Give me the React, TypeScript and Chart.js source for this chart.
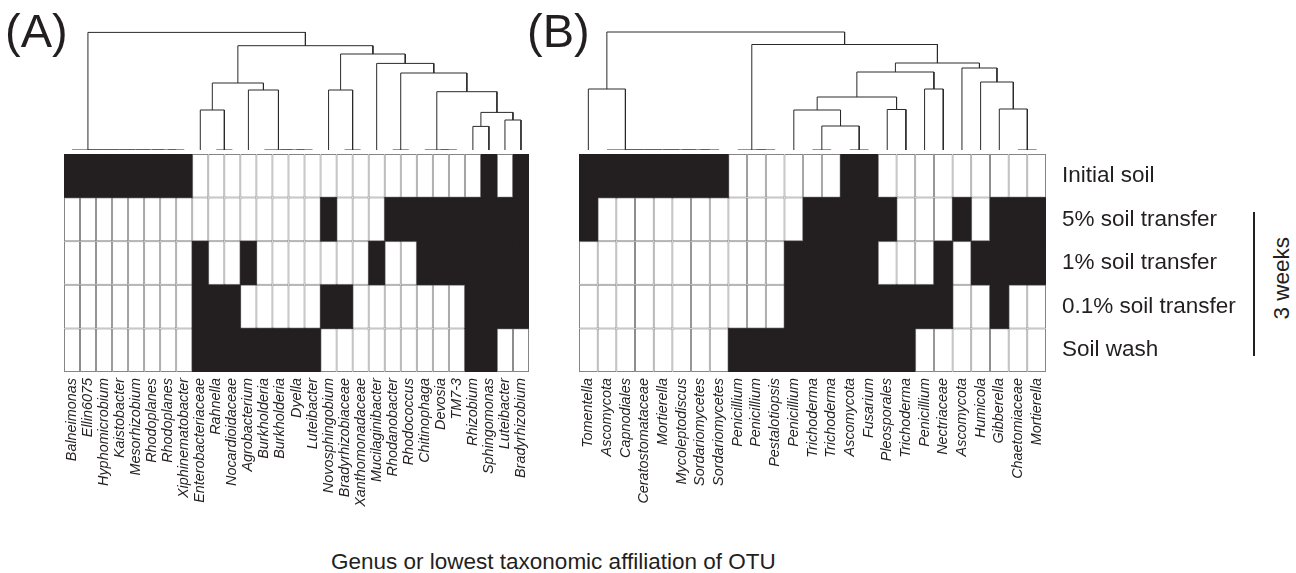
import React, { useEffect, useRef } from "react";
import { Chart, registerables } from "chart.js";

Chart.register(...registerables);

const INK = "#231f20";
const GRID = "#858585";
const FONT = "'Liberation Sans', Arial, Helvetica, sans-serif";

const rowLabels = ["Initial soil", "5% soil transfer", "1% soil transfer", "0.1% soil transfer", "Soil wash"];

// Panel A: bacteria
const bacteriaTaxa = [
  "Balneimonas", "Ellin6075", "Hyphomicrobium", "Kaistobacter", "Mesorhizobium", "Rhodoplanes", "Rhodoplanes",
  "Xiphinematobacter", "Enterobacteriaceae", "Rahnella", "Nocardioidaceae", "Agrobacterium", "Burkholderia",
  "Burkholderia", "Dyella", "Luteibacter", "Novosphingobium", "Bradyrhizobiaceae", "Xanthomonadaceae",
  "Mucilaginibacter", "Rhodanobacter", "Rhodococcus", "Chitinophaga", "Devosia", "TM7-3", "Rhizobium",
  "Sphingomonas", "Luteibacter", "Bradyrhizobium",
];
const bacteriaInitial = [1,1,1,1,1,1,1,1, 0,0,0,0,0,0,0,0, 0,0,0,0,0,0,0,0,0,0, 1,0,1];
const bacteria5 = [0,0,0,0,0,0,0,0, 0,0,0,0,0,0,0,0, 1,0,0,0, 1,1,1,1,1,1,1,1,1];
const bacteria1 = [0,0,0,0,0,0,0,0, 1,0,0,1,0,0,0,0, 0,0,0,1, 0,0,1,1,1,1,1,1,1];
const bacteria01 = [0,0,0,0,0,0,0,0, 1,1,1,0,0,0,0,0, 1,1,0,0, 0,0,0,0,0, 1,1,1,1];
const bacteriaWash = [0,0,0,0,0,0,0,0, 1,1,1,1,1,1,1,1, 0,0,0,0, 0,0,0,0,0, 1,1,0,0];
// merges: [childA, childB, height]; negative = leaf (1-based), positive = earlier merge (1-based)
const bacteriaMerges = [
  [-7, -8, 0], [-6, 1, 0], [-5, 2, 0], [-4, 3, 0], [-3, 4, 0], [-2, 5, 0], [-1, 6, 0],
  [-10, -11, 0], [-9, 8, 40],
  [-15, -16, 0], [-14, 10, 0], [-13, 11, 0], [-12, 12, 60], [9, 13, 67],
  [-18, -19, 0], [-17, 15, 60],
  [-21, -22, 0],
  [-24, -25, 0], [-23, 18, 0],
  [-26, -27, 23.6], [-28, -29, 30], [20, 21, 37.6], [19, 22, 58.3], [17, 23, 77], [-20, 24, 86.6],
  [16, 25, 96], [14, 26, 104.3], [7, 27, 117.6],
];

// Panel B: fungi
const fungiTaxa = [
  "Tomentella", "Ascomycota", "Capnodiales", "Ceratostomataceae", "Mortierella", "Mycoleptodiscus",
  "Sordariomycetes", "Sordariomycetes", "Penicillium", "Penicillium", "Pestalotiopsis", "Penicillium",
  "Trichoderma", "Trichoderma", "Ascomycota", "Fusarium", "Pleosporales", "Trichoderma", "Penicillium",
  "Nectriaceae", "Ascomycota", "Humicola", "Gibberella", "Chaetomiaceae", "Mortierella",
];
const fungiInitial = [1,1,1,1,1,1,1,1, 0,0,0,0,0,0, 1,1, 0,0,0,0,0,0,0,0,0];
const fungi5 = [1,0,0,0,0,0,0,0, 0,0,0,0, 1,1,1,1,1, 0,0,0, 1, 0, 1,1,1];
const fungi1 = [0,0,0,0,0,0,0,0, 0,0,0, 1,1,1,1,1, 0,0,0, 1, 0, 1,1,1,1];
const fungi01 = [0,0,0,0,0,0,0,0, 0,0,0, 1,1,1,1,1,1,1,1,1, 0,0, 1, 0,0];
const fungiWash = [0,0,0,0,0,0,0,0, 1,1,1,1,1,1,1,1,1,1, 0,0,0,0,0,0,0];
const fungiMerges = [
  [-7, -8, 0], [-6, 1, 0], [-5, 2, 0], [-4, 3, 0], [-3, 4, 0], [-2, 5, 0], [-1, 6, 61],
  [-10, -11, 0], [-9, 8, 0],
  [-13, -14, 0], [-15, -16, 0], [10, 11, 24], [-12, 12, 40], [-17, -18, 40.5], [13, 14, 53],
  [-19, -20, 61], [15, 16, 78],
  [-24, -25, 0], [-23, 18, 41], [-22, 19, 68], [-21, 20, 82], [17, 21, 87],
  [9, 22, 105.5], [7, 23, 118],
];

function dendroSegments(merges: number[][]) {
  const pos: { x: number; h: number }[] = [];
  const node = (id: number) => (id < 0 ? { x: -id - 1, h: 0 } : pos[id - 1]);
  return merges.map(([a, b, h]) => {
    const A = node(a);
    const B = node(b);
    pos.push({ x: (A.x + B.x) / 2, h });
    return [
      { x: A.x, y: A.h },
      { x: A.x, y: h },
      { x: B.x, y: h },
      { x: B.x, y: B.h },
    ];
  });
}

function makeDendrogram(canvas: HTMLCanvasElement, merges: number[][], n: number) {
  return new Chart(canvas, {
    type: "scatter",
    data: {
      datasets: dendroSegments(merges).map((seg) => ({
        data: seg,
        showLine: true,
        borderColor: "#2a2a2a",
        borderWidth: 1,
        pointRadius: 0,
        fill: false,
        tension: 0,
      })),
    },
    options: {
      animation: false,
      responsive: false,
      devicePixelRatio: 1,
      layout: { padding: 10 },
      plugins: { legend: { display: false }, tooltip: { enabled: false } },
      scales: {
        x: { type: "linear", min: -0.5, max: n - 0.5, display: false },
        y: { type: "linear", min: 0, max: 120, display: false },
      },
    },
  } as any);
}

function makeHeatmap(canvas: HTMLCanvasElement, taxa: string[], rows: number[][], showRows: boolean) {
  const datasets: any[] = [];
  [false, true].forEach((black) => {
    rows.forEach((row, r) => {
      datasets.push({
        data: row.map((v) => ((v === 1) === black ? [r, r + 1] : null)),
        backgroundColor: black ? INK : "#ffffff",
        borderColor: black ? INK : GRID,
        borderWidth: black ? 0 : 1,
        inflateAmount: black ? 0.6 : 0,
        borderSkipped: false,
        grouped: false,
        barPercentage: 1,
        categoryPercentage: 1,
      });
    });
  });
  return new Chart(canvas, {
    type: "bar",
    data: { labels: taxa, datasets },
    options: {
      animation: false,
      responsive: false,
      devicePixelRatio: 1,
      layout: { padding: { left: 10, right: showRows ? 0 : 10, top: 10, bottom: 0 } },
      plugins: { legend: { display: false }, tooltip: { enabled: false } },
      scales: {
        x: {
          type: "category",
          grid: { display: false, drawTicks: false },
          border: { display: false },
          ticks: {
            autoSkip: false,
            minRotation: 90,
            maxRotation: 90,
            padding: 6,
            color: INK,
            font: { family: FONT, size: 14.4, style: "italic" },
          },
          afterFit: (s: any) => {
            s.height = 140;
            s.paddingLeft = 0;
            s.paddingRight = 0;
          },
        },
        y: {
          type: "linear",
          min: 0,
          max: rows.length,
          reverse: true,
          position: "right",
          display: showRows,
          grid: { display: false, drawTicks: false },
          border: { display: false },
          ticks: {
            padding: 16,
            color: INK,
            font: { family: FONT, size: 22.5 },
            callback: (_v: any, i: number) => rowLabels[i] ?? "",
          },
          afterBuildTicks: (axis: any) => {
            axis.ticks = rowLabels.map((_, i) => ({ value: i + 0.5 }));
          },
          afterFit: (s: any) => {
            s.width = showRows ? 200 : 0;
            s.paddingTop = 0;
            s.paddingBottom = 0;
          },
        },
      },
    },
  } as any);
}

const abs = (left: number, top: number): React.CSSProperties => ({ position: "absolute", left, top });

export default function App() {
  const dA = useRef<HTMLCanvasElement>(null);
  const dB = useRef<HTMLCanvasElement>(null);
  const hA = useRef<HTMLCanvasElement>(null);
  const hB = useRef<HTMLCanvasElement>(null);

  useEffect(() => {
    const charts = [
      makeDendrogram(dA.current!, bacteriaMerges, bacteriaTaxa.length),
      makeDendrogram(dB.current!, fungiMerges, fungiTaxa.length),
      makeHeatmap(hA.current!, bacteriaTaxa, [bacteriaInitial, bacteria5, bacteria1, bacteria01, bacteriaWash], false),
      makeHeatmap(hB.current!, fungiTaxa, [fungiInitial, fungi5, fungi1, fungi01, fungiWash], true),
    ];
    return () => charts.forEach((c) => c.destroy());
  }, []);

  const textBase: React.CSSProperties = { fontFamily: FONT, color: INK, lineHeight: 1, whiteSpace: "nowrap" };

  return (
    <div style={{ position: "absolute", left: 0, top: 0, width: 1296, height: 573, background: "#fff", overflow: "hidden" }}>
      <canvas ref={dA} width={485} height={140} style={abs(54, 20)} />
      <canvas ref={dB} width={487} height={140} style={abs(569, 20)} />
      <canvas ref={hA} width={485} height={368} style={abs(54, 144)} />
      <canvas ref={hB} width={677} height={368} style={abs(569, 144)} />
      <div style={{ ...textBase, ...abs(5, 7), fontSize: 47 }}>(A)</div>
      <div style={{ ...textBase, ...abs(527, 7), fontSize: 47 }}>(B)</div>
      <div style={{ ...textBase, ...abs(331, 551), fontSize: 22.5 }}>Genus or lowest taxonomic affiliation of OTU</div>
      <div style={{ position: "absolute", left: 1253, top: 212, width: 2, height: 144, background: INK }} />
      <div
        style={{
          ...textBase,
          position: "absolute",
          left: 1222,
          top: 267,
          width: 120,
          height: 22.5,
          fontSize: 22.5,
          textAlign: "center",
          transform: "rotate(-90deg)",
        }}
      >
        3 weeks
      </div>
    </div>
  );
}
